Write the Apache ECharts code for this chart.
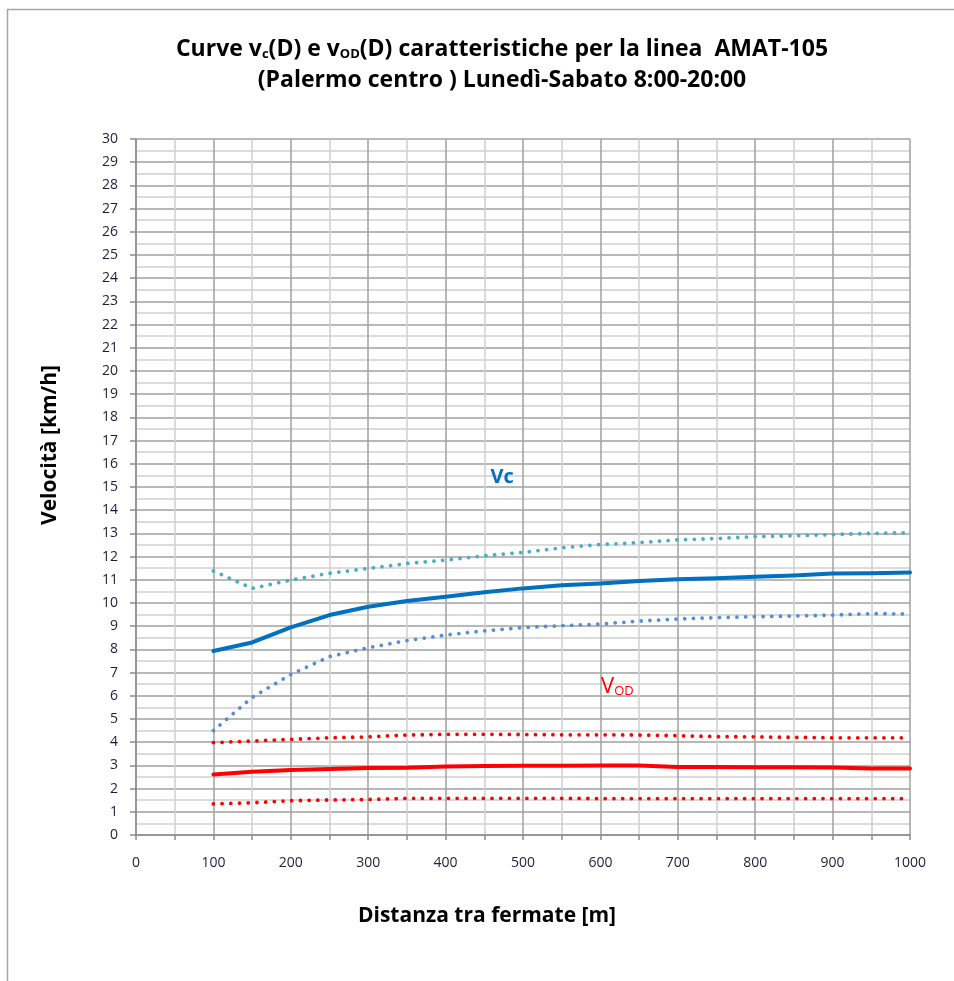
<!DOCTYPE html>
<html>
<head>
<meta charset="utf-8">
<script src="https://cdn.jsdelivr.net/npm/echarts@6/dist/echarts.min.js"></script>
<style>
  html, body { margin: 0; padding: 0; background: #fff; }
  #chart { width: 954px; height: 981px; }
</style>
</head>
<body>
<div id="chart"></div>
<script>
// Distance between stops [m]
const distances = [100, 150, 200, 250, 300, 350, 400, 450, 500, 550, 600, 650, 700, 750, 800, 850, 900, 950, 1000];

// Commercial speed vc(D) and its band [km/h]
const vc      = [7.93, 8.30, 8.95, 9.48, 9.84, 10.09, 10.27, 10.46, 10.63, 10.76, 10.84, 10.95, 11.02, 11.07, 11.13, 11.19, 11.27, 11.28, 11.32];
const vcUpper = [11.38, 10.63, 10.99, 11.28, 11.49, 11.70, 11.85, 12.03, 12.18, 12.38, 12.52, 12.60, 12.72, 12.78, 12.86, 12.90, 12.95, 13.00, 13.03];
const vcLower = [4.50, 5.93, 6.92, 7.69, 8.07, 8.38, 8.62, 8.80, 8.94, 9.02, 9.09, 9.22, 9.31, 9.37, 9.41, 9.44, 9.48, 9.54, 9.53];

// Origin-destination speed vOD(D) and its band [km/h]
const vod      = [2.61, 2.73, 2.80, 2.84, 2.89, 2.90, 2.95, 2.97, 2.98, 2.99, 3.00, 3.00, 2.93, 2.93, 2.92, 2.92, 2.91, 2.87, 2.87];
const vodUpper = [3.98, 4.05, 4.12, 4.19, 4.23, 4.31, 4.34, 4.34, 4.33, 4.32, 4.32, 4.31, 4.28, 4.24, 4.23, 4.21, 4.19, 4.19, 4.19];
const vodLower = [1.34, 1.39, 1.48, 1.51, 1.53, 1.58, 1.58, 1.58, 1.58, 1.58, 1.57, 1.57, 1.57, 1.57, 1.57, 1.57, 1.57, 1.57, 1.57];

const FONT = '"Open Sans", "Liberation Sans", sans-serif';
const pair = (ys) => distances.map((d, i) => [d, ys[i]]);

const solid = (name, ys, color) => ({
  name, type: 'line', data: pair(ys), symbol: 'none', smooth: false,
  lineStyle: { color, width: 4, cap: 'round', join: 'round' }, z: 3
});
const dotted = (name, ys, color) => ({
  name, type: 'line', data: pair(ys), symbol: 'none', smooth: false,
  lineStyle: { color, width: 3.8, type: [0.01, 8.7], cap: 'round' }, z: 2
});

const chart = echarts.init(document.getElementById('chart'), null, { renderer: 'canvas' });

chart.setOption({
  animation: false,
  backgroundColor: '#fff',
  title: {
    left: 497, top: 29, textAlign: 'center',
    text: '{t|Curve v}{s|c}{t|(D) e v}{s|OD}{t|(D) caratteristiche per la linea  AMAT-105}\n{t|(Palermo centro ) Lunedì-Sabato 8:00-20:00}',
    textStyle: {
      fontFamily: FONT, lineHeight: 31,
      rich: {
        t: { fontSize: 23, fontWeight: 'bold', color: '#000', fontFamily: FONT, lineHeight: 31 },
        s: { fontSize: 13, fontWeight: 'bold', color: '#000', fontFamily: FONT, padding: [10, 0, 0, 0], lineHeight: 31 }
      }
    }
  },
  grid: { left: 136, right: 44, top: 139, bottom: 146, containLabel: false },
  xAxis: {
    type: 'value', min: 0, max: 1000, interval: 100,
    axisLine: { show: true, onZero: false, lineStyle: { color: '#8c8c8c', width: 1.5 } },
    axisTick: { show: true, length: 5, lineStyle: { color: '#8c8c8c', width: 1.5 } },
    minorTick: { show: true, splitNumber: 2, length: 5, lineStyle: { color: '#8c8c8c', width: 1.5 } },
    axisLabel: { margin: 21, fontSize: 14, color: '#1e1e3c', fontFamily: FONT, formatter: (v) => String(v) },
    splitLine: { show: true, lineStyle: { color: '#a0a0a0', width: 1.5 } },
    minorSplitLine: { show: true, lineStyle: { color: '#cfcfcf', width: 1.5 } }
  },
  yAxis: {
    type: 'value', min: 0, max: 30, interval: 1,
    axisLine: { show: true, lineStyle: { color: '#8c8c8c', width: 1.5 } },
    axisTick: { show: true, length: 6, lineStyle: { color: '#8c8c8c', width: 1.5 } },
    axisLabel: { margin: 18, fontSize: 14, color: '#1e1e3c', fontFamily: FONT },
    splitLine: { show: true, lineStyle: { color: '#a0a0a0', width: 1.5 } },
    minorTick: { show: false, splitNumber: 2 },
    minorSplitLine: { show: true, lineStyle: { color: '#cfcfcf', width: 1.5 } }
  },
  series: [
    dotted('vc sup', vcUpper, '#4bacc6'),
    solid('vc', vc, '#0070c0'),
    dotted('vc inf', vcLower, '#558ed5'),
    dotted('vOD sup', vodUpper, '#ff0000'),
    solid('vOD', vod, '#ff0000'),
    dotted('vOD inf', vodLower, '#ff0000')
  ]
});

// Curve labels placed in data coordinates
const vcPos = chart.convertToPixel({ gridIndex: 0 }, [473, 15.4]);
const vodPos = chart.convertToPixel({ gridIndex: 0 }, [622, 6.4]);

chart.setOption({
  graphic: [
    {
      type: 'polyline', silent: true, z: -1,
      shape: { points: [[7.5, 1000], [7.5, 9.5], [1000, 9.5]] },
      style: { fill: null, stroke: '#a6a6a6', lineWidth: 1.5 }
    },
    {
      type: 'text', x: vcPos[0], y: vcPos[1],
      style: { text: 'Vc', fill: '#0070c0', font: 'bold 20px ' + FONT, align: 'center', verticalAlign: 'middle' }
    },
    {
      type: 'text', x: vodPos[0], y: vodPos[1],
      style: {
        text: '{v|V}{s|OD}', align: 'center', verticalAlign: 'middle',
        rich: {
          v: { fill: '#ff0000', fontSize: 22, fontFamily: FONT, lineHeight: 24 },
          s: { fill: '#ff0000', fontSize: 13, fontFamily: FONT, padding: [10, 0, 0, 0], lineHeight: 24 }
        }
      }
    },
    {
      type: 'text', x: 50, y: 445, rotation: Math.PI / 2,
      style: { text: 'Velocità [km/h]', fill: '#000', font: 'bold 21px ' + FONT, align: 'center', verticalAlign: 'middle' }
    },
    {
      type: 'text', x: 487, y: 916,
      style: { text: 'Distanza tra fermate [m]', fill: '#000', font: 'bold 21px ' + FONT, align: 'center', verticalAlign: 'middle' }
    }
  ]
});
</script>
</body>
</html>
